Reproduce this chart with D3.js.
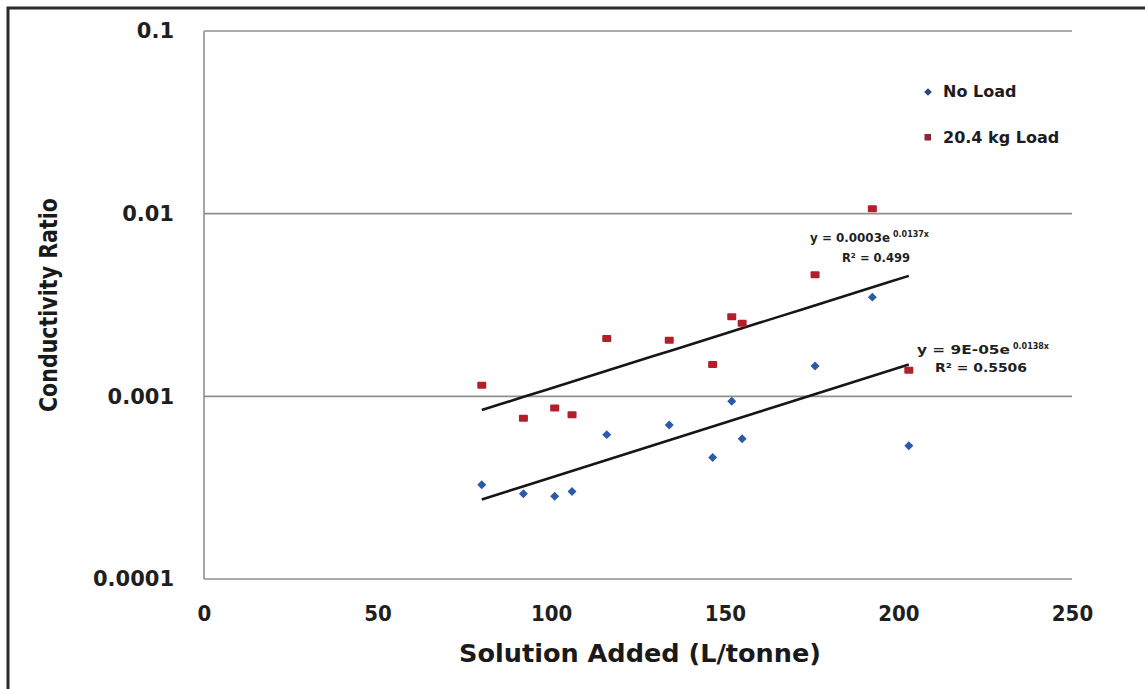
<!DOCTYPE html>
<html>
<head>
<meta charset="utf-8">
<script src="https://cdn.jsdelivr.net/npm/d3@7"></script>
<style>
  html, body { margin: 0; padding: 0; background: #fff; }
  svg { display: block; }
</style>
</head>
<body>
<svg id="chart" width="1145" height="689"></svg>
<script>
// ---- data ----
const solutionAdded = [80, 92, 101, 106, 116, 134, 146.5, 152, 155, 176, 192.5, 203];
const noLoad       = [0.000328, 0.000293, 0.000284, 0.000301, 0.000617, 0.000696, 0.000463, 0.000939, 0.000586, 0.001466, 0.003492, 0.000537];
const load204      = [0.001149, 0.000758, 0.000863, 0.000794, 0.002073, 0.002029, 0.001492, 0.002723, 0.002514, 0.004628, 0.010651, 0.001389];
const seriesNames  = ["No Load", "20.4 kg Load"];
const xTicks = [0, 50, 100, 150, 200, 250];
const yTicks = [0.0001, 0.001, 0.01, 0.1];
const yTickLabels = ["0.0001", "0.001", "0.01", "0.1"];
const eqNoLoad = { eq: "y = 9E-05e", exp: "0.0138x", r2: "R² = 0.5506" };
const eqLoad   = { eq: "y = 0.0003e", exp: "0.0137x", r2: "R² = 0.499" };

// ---- layout ----
const svg = d3.select("#chart");
const plot = { left: 204, right: 1072, top: 31, bottom: 579 };
const x = d3.scaleLinear().domain([0, 250]).range([plot.left, plot.right]);
const y = d3.scaleLog().domain([0.0001, 0.1]).range([plot.bottom, plot.top]);

// outer frame (image border)
svg.append("rect").attr("x", 8).attr("y", 8).attr("width", 1200).attr("height", 760)
  .attr("fill", "none").attr("stroke", "#2b2b2b").attr("stroke-width", 3);

// gridlines
svg.append("g").selectAll("line").data(yTicks.slice(1)).join("line")
  .attr("x1", plot.left).attr("x2", plot.right)
  .attr("y1", d => y(d)).attr("y2", d => y(d))
  .attr("stroke", "#8f8f8f").attr("stroke-width", 1.6);

// axes lines
svg.append("line").attr("x1", plot.left).attr("x2", plot.left)
  .attr("y1", plot.top).attr("y2", plot.bottom).attr("stroke", "#8f8f8f").attr("stroke-width", 1.6);
svg.append("line").attr("x1", plot.left).attr("x2", plot.right)
  .attr("y1", plot.bottom).attr("y2", plot.bottom).attr("stroke", "#8f8f8f").attr("stroke-width", 1.6);

// y tick labels
const yAxis = d3.axisLeft(y).tickValues(yTicks).tickSize(0).tickPadding(30)
  .tickFormat((d, i) => yTickLabels[i]);
const gy = svg.append("g").attr("transform", `translate(${plot.left},0)`).call(yAxis);
gy.select(".domain").remove();
gy.selectAll("text").attr("font-family", "DejaVu Sans").attr("font-weight", "bold")
  .attr("font-size", 21).attr("fill", "#1f1f1f");

// x tick labels
const xAxis = d3.axisBottom(x).tickValues(xTicks).tickSize(0).tickPadding(26);
const gx = svg.append("g").attr("transform", `translate(0,${plot.bottom})`).call(xAxis);
gx.select(".domain").remove();
gx.selectAll("text").attr("font-family", "DejaVu Sans Condensed, DejaVu Sans").attr("font-weight", "bold")
  .attr("font-size", 22).attr("fill", "#1f1f1f");

// axis titles
svg.append("text").attr("x", 640).attr("y", 662).attr("text-anchor", "middle")
  .attr("font-family", "DejaVu Sans Condensed, DejaVu Sans").attr("font-weight", "bold")
  .attr("font-size", 24).attr("fill", "#1a1a1a")
  .attr("textLength", 362).attr("lengthAdjust", "spacingAndGlyphs")
  .text("Solution Added (L/tonne)");
svg.append("text").attr("transform", "translate(57,305) rotate(-90)").attr("text-anchor", "middle")
  .attr("font-family", "DejaVu Sans Condensed, DejaVu Sans").attr("font-weight", "bold")
  .attr("font-size", 24).attr("fill", "#1a1a1a")
  .attr("textLength", 214).attr("lengthAdjust", "spacingAndGlyphs")
  .text("Conductivity Ratio");

// exponential fit (least squares on ln y)
function expFit(xs, ys) {
  const ly = ys.map(Math.log);
  const mx = d3.mean(xs), my = d3.mean(ly);
  let sxy = 0, sxx = 0;
  xs.forEach((v, i) => { sxy += (v - mx) * (ly[i] - my); sxx += (v - mx) * (v - mx); });
  const b = sxy / sxx, a = Math.exp(my - b * mx);
  return v => a * Math.exp(b * v);
}
const lineGen = d3.line().x(d => x(d[0])).y(d => y(d[1]));
[noLoad, load204].forEach(vals => {
  const f = expFit(solutionAdded, vals);
  const [x0, x1] = d3.extent(solutionAdded);
  const pts = d3.range(0, 21).map(i => { const v = x0 + (x1 - x0) * i / 20; return [v, f(v)]; });
  svg.append("path").attr("d", lineGen(pts)).attr("fill", "none")
    .attr("stroke", "#161616").attr("stroke-width", 2.6);
});

// points
const blue = "#2a5aa8", red = "#b21f2a";
const diamond = d3.symbol(d3.symbolSquare, 40);
svg.append("g").selectAll("path").data(solutionAdded.map((v, i) => [v, noLoad[i]])).join("path")
  .attr("d", diamond).attr("fill", blue)
  .attr("transform", d => `translate(${x(d[0])},${y(d[1])}) rotate(45)`);
svg.append("g").selectAll("rect").data(solutionAdded.map((v, i) => [v, load204[i]])).join("rect")
  .attr("x", d => x(d[0]) - 4.5).attr("y", d => y(d[1]) - 3.5)
  .attr("width", 9).attr("height", 7).attr("rx", 1).attr("fill", red);

// equations
function equation(e, x1, y1, w1, x2, y2, w2) {
  const font = t => t.attr("font-family", "DejaVu Sans").attr("font-weight", "bold").attr("fill", "#1f1f1f");
  font(svg.append("text")).attr("x", x1).attr("y", y1).attr("font-size", 12)
    .attr("textLength", w1).attr("lengthAdjust", "spacingAndGlyphs").text(e.eq);
  font(svg.append("text")).attr("x", x1 + w1 + 3).attr("y", y1 - 5).attr("font-size", 8).text(e.exp);
  font(svg.append("text")).attr("x", x2).attr("y", y2).attr("font-size", 12.5)
    .attr("textLength", w2).attr("lengthAdjust", "spacingAndGlyphs").text(e.r2);
}
equation(eqLoad, 810, 242, 80, 842, 262, 68);
equation(eqNoLoad, 917, 354, 93, 935, 372, 92);

// legend
const legend = svg.append("g");
legend.append("path").attr("d", d3.symbol(d3.symbolSquare, 30)).attr("fill", "#2d4779")
  .attr("transform", "translate(928,92) rotate(45)");
legend.append("rect").attr("x", 924.5).attr("y", 134).attr("width", 6.5).attr("height", 6.5).attr("fill", "#8e2534");
legend.selectAll("text").data(seriesNames).join("text")
  .attr("x", 943).attr("y", (d, i) => 97 + i * 46)
  .attr("font-family", "DejaVu Sans").attr("font-weight", "bold").attr("font-size", 16)
  .attr("fill", "#221a22").text(d => d);
</script>
</body>
</html>
